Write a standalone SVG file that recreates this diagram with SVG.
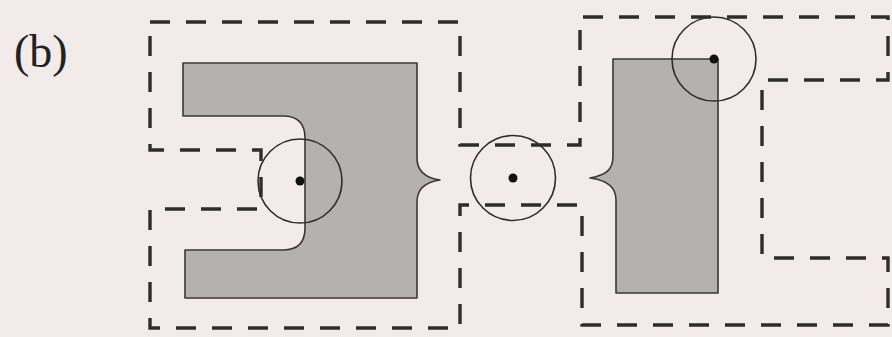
<svg xmlns="http://www.w3.org/2000/svg" width="892" height="337" viewBox="0 0 892 337">
<style>
.bg{fill:#f3ebea}
.solid{fill:#b4b1af;stroke:#3a3837;stroke-width:1.6;stroke-linejoin:round}
.dash{fill:none;stroke:#2e2c2c;stroke-width:3.4;stroke-dasharray:20 16}
.ring{fill:none;stroke:#2e2c2c;stroke-width:1.6}
.dot{fill:#111}
.lbl{font-family:"Liberation Serif","DejaVu Serif",serif;font-size:46px;fill:#222}
</style>
<rect class="bg" x="0" y="0" width="892" height="337"/>
<text class="lbl" x="14" y="67">(b)</text>
<g id="left-body">
<path class="solid" d="M183,63 H417 V158 C417,172 426,178 440,180 C426,182 417,188 417,202 V298 H185 V250 H283 Q305,250 305,228 V138 Q305,116 283,116 H183 Z"/>
</g>
<g id="right-body">
<path class="solid" d="M613,59 H718 V293 H616 V200 C616,186 606,180 590,178 C606,175 613,170 613,156 Z"/>
</g>
<g id="boundary">
<path class="dash" d="M150,22 H460 V145 H580 V17 H888 V80 H762 V258 H888 V325 H582 V205 H460 V328 H150 V209 H261 V150 H150 Z"/>
</g>
<g id="left-point">
<circle class="ring" cx="300" cy="181" r="42"/>
<circle class="dot" cx="300" cy="181" r="4.5"/>
</g>
<g id="middle-point">
<circle class="ring" cx="513" cy="178" r="42.5"/>
<circle class="dot" cx="513" cy="178" r="4.5"/>
</g>
<g id="right-point">
<circle class="ring" cx="714" cy="59" r="42"/>
<circle class="dot" cx="714" cy="59" r="4.5"/>
</g>
</svg>
